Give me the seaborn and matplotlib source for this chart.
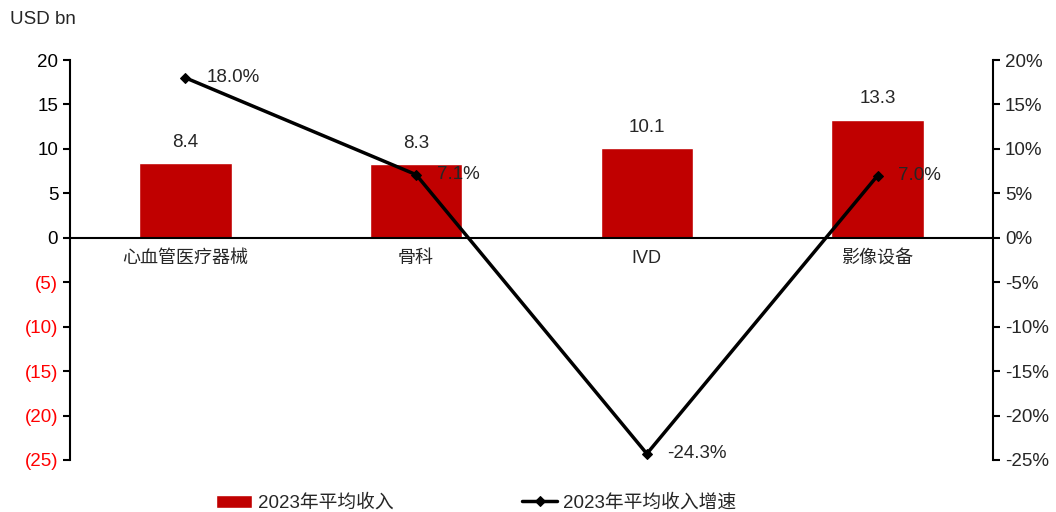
import numpy as np
import pandas as pd
import seaborn as sns
import matplotlib
from matplotlib import pyplot as plt
from matplotlib.ticker import FuncFormatter, FixedLocator

categories = ['心血管医疗器械', '骨科', 'IVD', '影像设备']
revenue = [8.4, 8.3, 10.1, 13.3]
growth = [18.0, 7.1, -24.3, 7.0]
left_ticks = [20, 15, 10, 5, 0, -5, -10, -15, -20, -25]

sns.set_style('white')
plt.rcParams['font.family'] = ['Liberation Sans', 'Noto Sans CJK SC', 'DejaVu Sans']
plt.rcParams['font.size'] = 13.5

df = pd.DataFrame({'cat': categories, 'rev': revenue, 'growth': growth})

fig = plt.figure(figsize=(10.56, 5.12), dpi=100)
ax = fig.add_axes([0.0663, 0.1016, 0.874, 0.7812])

sns.barplot(data=df, x='cat', y='rev', color='#C00000', width=0.4,
            saturation=1, ax=ax, label='2023年平均收入')
ax.set_ylim(-25, 20)
ax.set_xlim(-0.5, 3.5)
ax.set_yticks(left_ticks)

def left_fmt(v, pos):
    return f'({abs(int(v))})' if v < 0 else f'{int(v)}'
ax.yaxis.set_major_formatter(FuncFormatter(left_fmt))
for lab, v in zip(ax.get_yticklabels(), left_ticks):
    lab.set_color('red' if v < 0 else 'black')

ax.spines['top'].set_visible(False)
ax.spines['right'].set_visible(False)
ax.spines['left'].set_linewidth(1.5)
ax.spines['bottom'].set_position(('data', 0))
ax.spines['bottom'].set_linewidth(1.5)
for s in ax.spines.values():
    s.set_color('black')
ax.tick_params(axis='y', direction='out', length=5, width=1.5, color='black', labelsize=13.5)
ax.tick_params(axis='x', which='major', length=0, pad=9, labelsize=13)
ax.xaxis.set_minor_locator(FixedLocator([0.5, 1.5, 2.5]))
ax.tick_params(axis='x', which='minor', direction='out', length=5, width=1.5, color='black')
ax.set_xlabel('')
ax.set_ylabel('')

for i, v in enumerate(revenue):
    ax.text(i, v + 1.4, f'{v:.1f}', ha='center', va='bottom', fontsize=13.5)

ax2 = ax.twinx()
sns.lineplot(data=df, x='cat', y='growth', color='black', linewidth=2.5,
             marker='D', markersize=5, markeredgecolor='black',
             markerfacecolor='black', ax=ax2, label='2023年平均收入增速')
ax2.set_ylim(-25, 20)
ax2.set_yticks(left_ticks)
ax2.yaxis.set_major_formatter(FuncFormatter(lambda v, p: f'{int(v)}%'))
for s in ['top', 'left', 'bottom']:
    ax2.spines[s].set_visible(False)
ax2.spines['right'].set_linewidth(1.5)
ax2.spines['right'].set_color('black')
ax2.tick_params(axis='y', direction='out', length=5, width=1.5, color='black', labelsize=13.5)
ax2.set_ylabel('')
ax2.set_xlabel('')
ax2.get_legend().remove()

for i, g in enumerate(growth):
    ax2.text(i + 0.09, g, f'{g:.1f}%', ha='left', va='center', fontsize=13.5)

fig.text(0.009, 0.962, 'USD bn', fontsize=13.5, ha='left', va='center')

h1, l1 = ax.get_legend_handles_labels()
h2, l2 = ax2.get_legend_handles_labels()
if ax.get_legend() is not None:
    ax.get_legend().remove()
fig.legend(h1 + h2, l1 + l2, loc='lower center', bbox_to_anchor=(0.451, -0.033),
           ncol=2, frameon=False, fontsize=13.5, columnspacing=6.85,
           handlelength=1.9, handletextpad=0.3)

plt.savefig('out.png', dpi=100)
